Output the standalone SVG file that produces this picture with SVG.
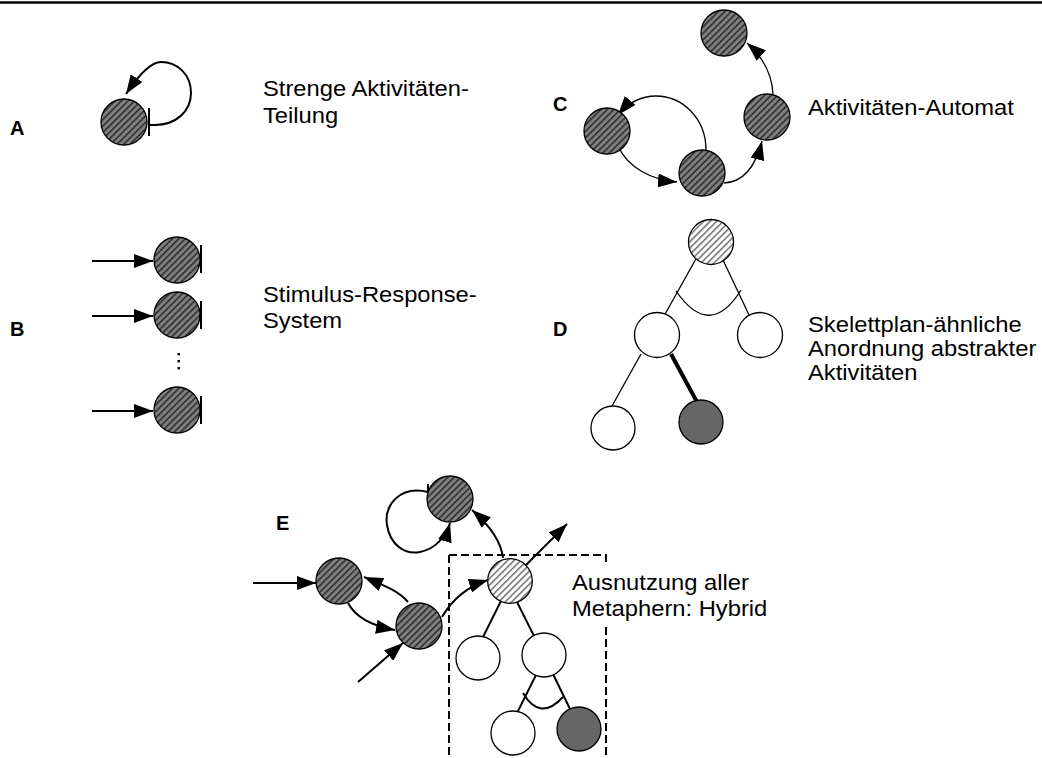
<svg xmlns="http://www.w3.org/2000/svg" width="1042" height="758" viewBox="0 0 1042 758">
  <style>
    .lbl { font-family: "Liberation Sans", Arial, sans-serif; font-size: 20px; font-weight: bold; fill: #000; }
    .txt { font-family: "Liberation Sans", Arial, sans-serif; font-size: 22px; fill: #000; }
    .act { fill: url(#hatchDark); stroke: #000; stroke-width: 1.3; }
    .abs { fill: url(#hatchLight); stroke: #000; stroke-width: 1.3; }
    .open { fill: #fff; stroke: #000; stroke-width: 1.3; }
    .done { fill: #666; stroke: #000; stroke-width: 1.3; }
    .edge { fill: none; stroke: #000; stroke-width: 2; }
    .thin { fill: none; stroke: #000; stroke-width: 1.3; }
    .bar { stroke: #000; stroke-width: 2; }
  </style>
  <defs>
    <pattern id="hatchDark" patternUnits="userSpaceOnUse" width="4.6" height="4.6" patternTransform="rotate(45)">
      <rect width="4.6" height="4.6" fill="#808080"/>
      <rect width="1.6" height="4.6" fill="#2e2e2e"/>
    </pattern>
    <pattern id="hatchLight" patternUnits="userSpaceOnUse" width="4.6" height="4.6" patternTransform="rotate(45)">
      <rect width="4.6" height="4.6" fill="#fff"/>
      <rect width="1.6" height="4.6" fill="#777"/>
    </pattern>
    <marker id="head" markerUnits="userSpaceOnUse" markerWidth="20" markerHeight="14" refX="19" refY="7" orient="auto">
      <path d="M0,0 L19,7 L0,14 Z" fill="#000"/>
    </marker>
  </defs>

  <!-- top rule -->
  <line x1="0" y1="2.5" x2="1042" y2="2.5" stroke="#000" stroke-width="2.5"/>

  <!-- panel labels and captions (captions set slightly wide) -->
  <g id="labels">
    <text class="lbl" x="10" y="135">A</text>
    <text class="lbl" x="10" y="336">B</text>
    <text class="lbl" x="553" y="111">C</text>
    <text class="lbl" x="553" y="336">D</text>
    <text class="lbl" x="276" y="530">E</text>
    <text class="txt" transform="matrix(1.08 0 0 1 263 96)">Strenge Aktivitäten-</text>
    <text class="txt" transform="matrix(1.08 0 0 1 263 123)">Teilung</text>
    <text class="txt" transform="matrix(1.08 0 0 1 263 302)">Stimulus-Response-</text>
    <text class="txt" transform="matrix(1.08 0 0 1 263 328)">System</text>
    <text class="txt" transform="matrix(1.08 0 0 1 808 115)">Aktivitäten-Automat</text>
    <text class="txt" transform="matrix(1.08 0 0 1 808 332)">Skelettplan-ähnliche</text>
    <text class="txt" transform="matrix(1.08 0 0 1 808 356)">Anordnung abstrakter</text>
    <text class="txt" transform="matrix(1.08 0 0 1 808 380)">Aktivitäten</text>
    <text class="txt" transform="matrix(1.08 0 0 1 572 590)">Ausnutzung aller</text>
    <text class="txt" transform="matrix(1.08 0 0 1 572 616)">Metaphern: Hybrid</text>
  </g>

  <!-- connectors -->
  <g id="connectors">
    <!-- A: self loop with inhibitor bar -->
    <path class="edge" d="M149,125 L155,125 C175,125 191,112 191,93 C191,74 177,62 161,62 C150,62 138,76 126,94" marker-end="url(#head)"/>
    <line class="bar" x1="149" y1="108" x2="149" y2="136"/>

    <!-- B: stimulus arrows and bars -->
    <line class="edge" x1="92" y1="261" x2="153" y2="261" marker-end="url(#head)"/>
    <line class="edge" x1="92" y1="316" x2="153" y2="316" marker-end="url(#head)"/>
    <line class="edge" x1="92" y1="411" x2="153" y2="411" marker-end="url(#head)"/>
    <line class="bar" x1="201" y1="245" x2="201" y2="273"/>
    <line class="bar" x1="201" y1="301" x2="201" y2="329"/>
    <line class="bar" x1="201" y1="396" x2="201" y2="424"/>
    <rect x="177.5" y="353" width="2.4" height="2.4" fill="#000"/>
    <rect x="177.5" y="360" width="2.4" height="2.4" fill="#000"/>
    <rect x="177.5" y="367" width="2.4" height="2.4" fill="#000"/>

    <!-- C: automaton transitions -->
    <path class="thin" d="M706,150 C706,118 682,96 656,96 C641,96 628,103 618,115" marker-end="url(#head)"/>
    <path class="thin" d="M618,146 C628,168 652,180 677,182" marker-end="url(#head)"/>
    <path class="thin" d="M724,183 C745,182 756,165 762,141" marker-end="url(#head)"/>
    <path class="thin" d="M773,94 C772,75 764,58 747,43" marker-end="url(#head)"/>

    <!-- D: skeleton plan tree -->
    <line class="thin" x1="697" y1="257" x2="664" y2="316"/>
    <line class="thin" x1="723" y1="260" x2="750" y2="317"/>
    <path class="thin" d="M676,291 Q710,340 741,290"/>
    <line class="thin" x1="641" y1="354" x2="612" y2="406"/>
    <line x1="671" y1="354" x2="697" y2="402" stroke="#000" stroke-width="4"/>

    <!-- E: hybrid -->
    <line class="edge" x1="253" y1="583" x2="316" y2="583" marker-end="url(#head)"/>
    <path class="edge" d="M348,603 C356,618 372,626 395,630" marker-end="url(#head)"/>
    <path class="edge" d="M408,602 C398,590 378,583 364,577" marker-end="url(#head)"/>
    <line class="edge" x1="358" y1="682" x2="403" y2="643" marker-end="url(#head)"/>
    <path class="edge" d="M442,617 C452,600 466,587 488,580" marker-end="url(#head)"/>
    <path class="edge" d="M503,558 C501,540 488,524 472,510" marker-end="url(#head)"/>
    <line class="edge" x1="522" y1="569" x2="567" y2="524" marker-end="url(#head)"/>
    <path class="edge" d="M428,492 C400,485 384,505 387,525 C390,545 405,555 420,552 C435,549 446,537 450,523" marker-end="url(#head)"/>
    <line class="bar" x1="428" y1="484" x2="428" y2="500"/>
    <line class="edge" x1="501" y1="601" x2="483" y2="637"/>
    <line class="edge" x1="517" y1="602" x2="534" y2="636"/>
    <line class="edge" x1="536" y1="675" x2="517" y2="713"/>
    <line class="edge" x1="553" y1="674" x2="570" y2="709"/>
    <path class="edge" d="M523,693 Q540,722 563,697"/>
    <!-- planning region -->
    <path d="M449,555 H606 V563 M449,555 V758 M606,627 V758" fill="none" stroke="#000" stroke-width="2" stroke-dasharray="8 4"/>
  </g>

  <!-- nodes -->
  <g id="a-node"><circle class="act" cx="124" cy="122" r="23"/></g>

  <g id="b-node-1"><circle class="act" cx="177" cy="260" r="23"/></g>
  <g id="b-node-2"><circle class="act" cx="177" cy="315" r="23"/></g>
  <g id="b-node-3"><circle class="act" cx="177" cy="410" r="23"/></g>

  <g id="c-node-1"><circle class="act" cx="607" cy="131" r="23"/></g>
  <g id="c-node-2"><circle class="act" cx="702" cy="173" r="23"/></g>
  <g id="c-node-3"><circle class="act" cx="767" cy="117" r="23"/></g>
  <g id="c-node-4"><circle class="act" cx="724" cy="33" r="23"/></g>

  <g id="d-root"><circle class="abs" cx="711" cy="242" r="22.5"/></g>
  <g id="d-left"><circle class="open" cx="657" cy="335" r="22.5"/></g>
  <g id="d-right"><circle class="open" cx="760" cy="335" r="22.5"/></g>
  <g id="d-leaf-open"><circle class="open" cx="613" cy="428" r="22"/></g>
  <g id="d-leaf-done"><circle class="done" cx="701" cy="422" r="22"/></g>

  <g id="e-node-1"><circle class="act" cx="339" cy="581" r="23"/></g>
  <g id="e-node-2"><circle class="act" cx="419" cy="626" r="23"/></g>
  <g id="e-node-3"><circle class="act" cx="450" cy="499" r="23"/></g>
  <g id="e-root"><circle class="abs" cx="510" cy="581" r="22.3"/></g>
  <g id="e-left"><circle class="open" cx="478" cy="658" r="22"/></g>
  <g id="e-right"><circle class="open" cx="544" cy="655" r="22"/></g>
  <g id="e-leaf-open"><circle class="open" cx="513" cy="733" r="22"/></g>
  <g id="e-leaf-done"><circle class="done" cx="579" cy="729" r="22"/></g>
</svg>
